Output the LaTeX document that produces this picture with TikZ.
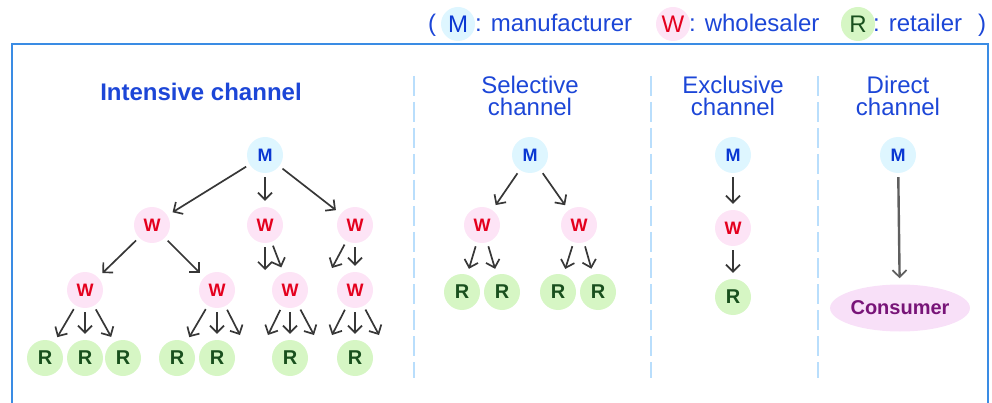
\documentclass[tikz,border=0pt]{standalone}
\usepackage{fontspec}
\setmainfont{Liberation Sans}
\usetikzlibrary{arrows.meta,shapes.geometric}

\definecolor{framecol}{RGB}{58,140,228}
\definecolor{sepcol}{RGB}{185,222,252}
\definecolor{txtblue}{RGB}{28,70,215}
\definecolor{mfill}{RGB}{222,246,255}
\definecolor{mtext}{RGB}{10,55,210}
\definecolor{wfill}{RGB}{253,228,246}
\definecolor{wtext}{RGB}{228,0,30}
\definecolor{rfill}{RGB}{214,246,196}
\definecolor{rtext}{RGB}{25,80,30}
\definecolor{cfill}{RGB}{248,224,248}
\definecolor{ctext}{RGB}{120,20,120}
\definecolor{arrgray}{RGB}{55,55,55}

\tikzset{
  dot/.style={circle, minimum size=36pt, inner sep=0pt},
  mnode/.style={dot, fill=mfill, text=mtext, font=\bfseries\fontsize{18}{18}\selectfont},
  wnode/.style={dot, fill=wfill, text=wtext, font=\bfseries\fontsize{18}{18}\selectfont},
  rnode/.style={dot, fill=rfill, text=rtext, font=\bfseries\fontsize{20}{20}\selectfont},
  keydot/.style={circle, minimum size=34pt, inner sep=0pt, font=\fontsize{24}{24}\selectfont},
  keytext/.style={text=txtblue, inner sep=0pt, font=\fontsize{24}{24}\selectfont},
  heading/.style={text=txtblue, inner sep=0pt, align=center, font=\fontsize{24}{22}\selectfont},
  arr/.style={draw=arrgray, line width=1.7pt,
    -{Straight Barb[length=7pt,width=14pt,line width=1.7pt]},
    shorten <=4pt, shorten >=6pt},
  freearr/.style={arr, shorten >=0pt},
  sepline/.style={draw=sepcol, line width=2pt, dash pattern=on 20pt off 6pt},
}

\begin{document}
\begin{tikzpicture}[x=1pt,y=-1pt]
\useasboundingbox (0,0) rectangle (992,403);
\clip (0,0) rectangle (992,403);

% key line
\node[keytext, anchor=base] (kp1) at (432,32) {(};
\node[keydot, fill=mfill, text=mtext] (km) at (458,24) {M};
\node[keytext, anchor=base west] (kt1) at (475,32) {: manufacturer};
\node[keydot, fill=wfill, text=wtext] (kw) at (673,24) {W};
\node[keytext, anchor=base west] (kt2) at (689,32) {: wholesaler};
\node[keydot, fill=rfill, text=rtext] (kr) at (858,24) {R};
\node[keytext, anchor=base west] (kt3) at (873,32) {: retailer};
\node[keytext, anchor=base] (kp2) at (982,32) {)};

% outer frame
\draw[framecol, line width=2pt] (12,44) rectangle (988,430);

% column separators
\draw[sepline] (414,76) -- (414,378);
\draw[sepline] (651,76) -- (651,378);
\draw[sepline] (818,76) -- (818,378);

% headings
\node[heading, font=\bfseries\fontsize{24}{24}\selectfont, anchor=base] (hint) at (201,101) {Intensive channel};
\node[heading, anchor=north] (hsel) at (530,76) {Selective\\channel};
\node[heading, anchor=north] (hexc) at (733,76) {Exclusive\\channel};
\node[heading, anchor=north] (hdir) at (898,76) {Direct\\channel};

% intensive channel
\node[mnode] (m1) at (265,155) {M};
\node[wnode] (w1) at (152,225) {W};
\node[wnode] (w2) at (265,225) {W};
\node[wnode] (w3) at (355,225) {W};
\node[wnode] (w4) at (85,290) {W};
\node[wnode] (w5) at (217,290) {W};
\node[wnode] (w6) at (290,290) {W};
\node[wnode] (w7) at (355,290) {W};
\node[rnode] (r1) at (45,358) {R};
\node[rnode] (r2) at (85,358) {R};
\node[rnode] (r3) at (123,358) {R};
\node[rnode] (r4) at (177,358) {R};
\node[rnode] (r5) at (217,358) {R};
\node[rnode] (r6) at (290,358) {R};
\node[rnode] (r7) at (355,358) {R};

\coordinate (e1) at (265,270);
\coordinate (e2) at (332,268);
\coordinate (f1) at (240,335);
\coordinate (f2) at (268,335);
\coordinate (f3) at (314,335);
\coordinate (f4) at (332,335);
\coordinate (f5) at (379,335);

\draw[arr] (m1) -- (w1);
\draw[arr] (m1) -- (w2);
\draw[arr] (m1) -- (w3);
\draw[arr] (w1) -- (w4);
\draw[arr] (w1) -- (w5);
\draw[freearr] (w2) -- (e1);
\draw[arr] (w2) -- (w6);
\draw[freearr] (w3) -- (e2);
\draw[arr] (w3) -- (w7);
\draw[arr] (w4) -- (r1);
\draw[arr] (w4) -- (r2);
\draw[arr] (w4) -- (r3);
\draw[arr] (w5) -- (r4);
\draw[arr] (w5) -- (r5);
\draw[freearr] (w5) -- (f1);
\draw[freearr] (w6) -- (f2);
\draw[arr] (w6) -- (r6);
\draw[freearr] (w6) -- (f3);
\draw[freearr] (w7) -- (f4);
\draw[arr] (w7) -- (r7);
\draw[freearr] (w7) -- (f5);

% selective channel
\node[mnode] (m2) at (530,155) {M};
\node[wnode] (w8) at (482,225) {W};
\node[wnode] (w9) at (579,225) {W};
\node[rnode] (r8) at (462,292) {R};
\node[rnode] (r9) at (502,292) {R};
\node[rnode] (r10) at (558,292) {R};
\node[rnode] (r11) at (598,292) {R};
\draw[arr] (m2) -- (w8);
\draw[arr] (m2) -- (w9);
\draw[arr] (w8) -- (r8);
\draw[arr] (w8) -- (r9);
\draw[arr] (w9) -- (r10);
\draw[arr] (w9) -- (r11);

% exclusive channel
\node[mnode] (m3) at (733,155) {M};
\node[wnode] (w10) at (733,228) {W};
\node[rnode] (r12) at (733,297) {R};
\draw[arr] (m3) -- (w10);
\draw[arr] (w10) -- (r12);

% direct channel
\node[mnode] (m4) at (898,155) {M};
\node[ellipse, fill=cfill, text=ctext, minimum width=127pt, minimum height=47pt,
      inner sep=0pt, font=\bfseries\fontsize{20}{20}\selectfont] (cons) at (900,308) {Consumer};
\draw[arr, draw=arrgray!80, line width=2.4pt] (m4) -- (cons);

\end{tikzpicture}
\end{document}
